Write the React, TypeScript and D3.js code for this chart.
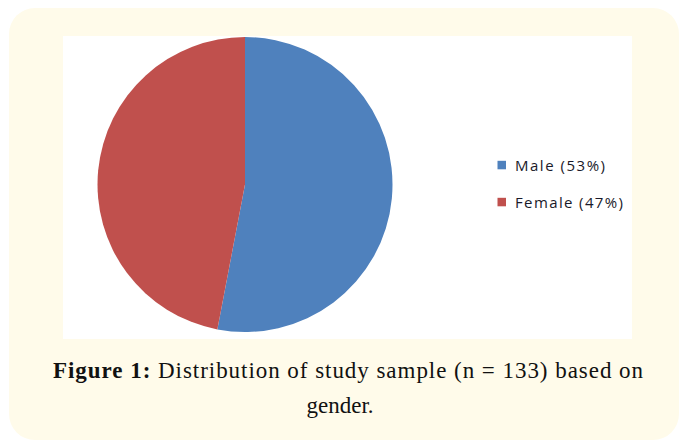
import { useEffect } from "react";
import * as d3 from "d3";

const categories = ["Male", "Female"];
const shares = [53, 47];
const legendLabels = ["Male (53%)", "Female (47%)"];
const legendWidths = [90, 108];
const colors = ["#4F81BD", "#C0504D"];

const W = 679;
const H = 440;

const App = () => {
  useEffect(() => {
    document.body.style.margin = "0";
  }, []);

  const cx = 245;
  const cy = 184.5;
  const r = 147.5;

  const pie = d3
    .pie<number>()
    .sort(null)
    .value((d) => d);
  const arcs = pie(shares);
  const arcGen = d3.arc<d3.PieArcDatum<number>>().innerRadius(0).outerRadius(r);

  const legendY = d3.scalePoint<string>().domain(categories).range([165, 202]);

  return (
    <svg width={W} height={H} style={{ display: "block" }}>
      <rect x={0} y={0} width={W} height={H} fill="#ffffff" />
      <rect x={9} y={8} width={670} height={432} rx={26} fill="#FFFBEA" />
      <rect x={63} y={36} width={569} height={303} fill="#ffffff" />
      <g transform={`translate(${cx},${cy})`}>
        {arcs.map((a, i) => (
          <path key={categories[i]} d={arcGen(a) || ""} fill={colors[i]} />
        ))}
      </g>
      <g fontFamily="'Open Sans', 'DejaVu Sans', sans-serif" fontSize={15} fill="#1a1a2a">
        {categories.map((c, i) => (
          <g key={c}>
            <rect x={497.5} y={legendY(c)! - 4.2} width={8.5} height={8.5} fill={colors[i]} />
            <text
              x={515}
              y={legendY(c)! + 5.5}
              textLength={legendWidths[i]}
              lengthAdjust="spacing"
            >
              {legendLabels[i]}
            </text>
          </g>
        ))}
      </g>
      <g fontFamily="'Liberation Serif', serif" fontSize={23} fill="#111">
        <text x={53} y={377.5} textLength={590} lengthAdjust="spacing">
          <tspan fontWeight="bold">Figure 1:</tspan> Distribution of study sample (n = 133) based on
        </text>
        <text x={340} y={412.5} textAnchor="middle">
          gender.
        </text>
      </g>
    </svg>
  );
};

export default App;
